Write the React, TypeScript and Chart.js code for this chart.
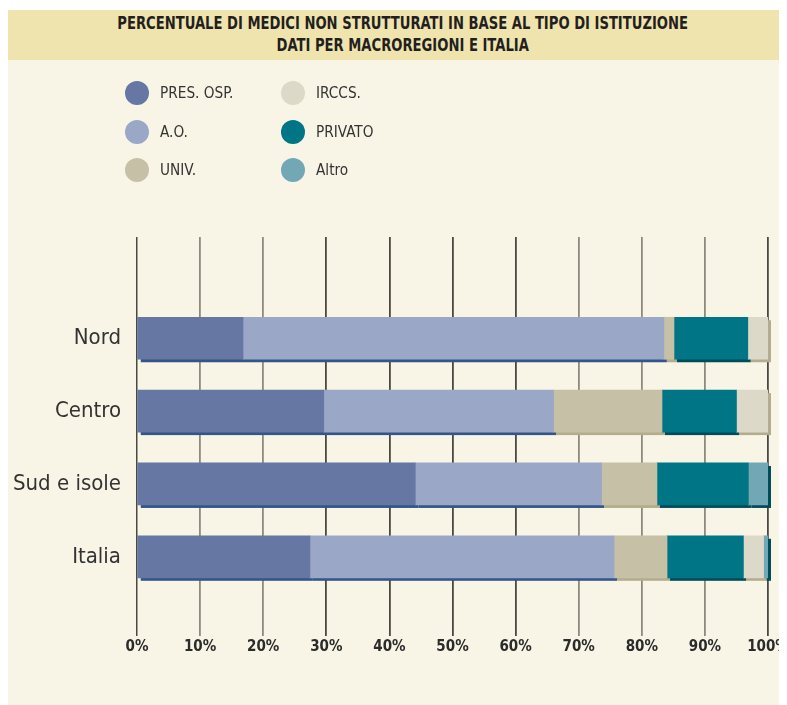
import React, { useEffect, useRef } from "react";
import { Chart, registerables } from "chart.js";

Chart.register(...registerables);

// ---- data ----
const categories = ["Nord", "Centro", "Sud e isole", "Italia"];
const seriesNames = ["PRES. OSP.", "A.O.", "UNIV.", "PRIVATO", "IRCCS.", "Altro"];
const presOsp = [16.8, 29.6, 44.1, 27.4];
const aziendeOsp = [66.7, 36.4, 29.5, 48.2];
const univ = [1.6, 17.2, 8.8, 8.4];
const privato = [11.7, 11.8, 14.5, 12.1];
const irccs = [3.2, 5.0, 0, 3.2];
const altro = [0, 0, 3.1, 0.7];
const xTickValues = [0, 10, 20, 30, 40, 50, 60, 70, 80, 90, 100];
const titleLines = [
  "PERCENTUALE DI MEDICI NON STRUTTURATI IN BASE AL TIPO DI ISTITUZIONE",
  "DATI PER MACROREGIONI E ITALIA",
];

// ---- styles ----
const seriesValues = [presOsp, aziendeOsp, univ, privato, irccs, altro];
const fillColors = ["#6577a2", "#9aa7c7", "#c6c0a7", "#007585", "#dcd9c9", "#72a8b5"];
const shadowColors = ["#34558a", "#34558a", "#b3ad8e", "#004c59", "#b3ad8e", "#004c59"];
const legendOrder = [0, 1, 2, 4, 3, 5];
const darkGridValues = [0, 30, 40, 50, 60, 100];
const NARROW = "'DejaVu Sans Condensed', 'Liberation Sans Narrow', sans-serif";
const CREAM = "#f8f5e7";
const BAND = "#efe4ae";

const shadowPlugin = {
  id: "barShadow",
  beforeDatasetsDraw(chart: any) {
    const ctx = chart.ctx;
    ctx.save();
    chart.data.datasets.forEach((ds: any, di: number) => {
      const meta = chart.getDatasetMeta(di);
      if (meta.hidden) return;
      meta.data.forEach((el: any) => {
        const p = el.getProps(["x", "y", "base", "height"], true);
        const w = p.x - p.base;
        if (Math.abs(w) < 0.01) return;
        ctx.fillStyle = ds.shadowColor;
        ctx.fillRect(p.base + 3, p.y - p.height / 2 + 3, w, p.height);
      });
    });
    ctx.restore();
  },
};

export default function App() {
  const canvasRef = useRef<HTMLCanvasElement | null>(null);

  useEffect(() => {
    document.documentElement.style.overflow = "hidden";
    const canvas = canvasRef.current;
    if (!canvas) return;
    const datasets = seriesNames.map((name, si) => ({
      label: name,
      data: categories.map((_, ci) => ({ x: seriesValues[si][ci], y: ci })),
      backgroundColor: fillColors[si],
      shadowColor: shadowColors[si],
      borderWidth: 0,
      barThickness: 42,
    }));
    const chart = new Chart(canvas, {
      type: "bar",
      data: { datasets: datasets as any },
      plugins: [shadowPlugin],
      options: {
        indexAxis: "y",
        responsive: false,
        animation: false,
        events: [],
        layout: { padding: { top: 227, right: 19, left: 0, bottom: 47 } },
        plugins: { legend: { display: false }, tooltip: { enabled: false }, title: { display: false } },
        scales: {
          x: {
            type: "linear",
            stacked: true,
            min: 0,
            max: 100,
            position: "bottom",
            afterBuildTicks: (scale: any) => {
              scale.ticks = xTickValues.map((v) => ({ value: v }));
            },
            afterFit: (scale: any) => {
              scale.paddingRight = 0;
              scale.paddingLeft = 0;
            },
            border: { display: false },
            grid: {
              display: true,
              drawOnChartArea: true,
              drawTicks: true,
              tickLength: 10,
              color: (c: any) => (darkGridValues.includes(c.tick?.value) ? "#4a4843" : "#8d8a80"),
              lineWidth: (c: any) => (c.tick?.value === 0 ? 1.5 : 1.8),
            },
            ticks: {
              padding: 2,
              color: "#2b2b2b",
              font: { family: NARROW, size: 15, weight: "bold" },
              callback: (v: any) => `${v}%`,
              maxRotation: 0,
              autoSkip: false,
            },
          },
          y: {
            type: "linear",
            stacked: true,
            reverse: true,
            offset: false,
            min: -1.39,
            max: 3.95,
            afterBuildTicks: (scale: any) => {
              scale.ticks = categories.map((_, i) => ({ value: i }));
            },
            afterFit: (scale: any) => {
              scale.width = 129;
            },
            border: { display: false },
            grid: { display: false, drawTicks: false, offset: false },
            ticks: {
              padding: 16,
              color: "#333333",
              font: { family: NARROW, size: 22 },
              callback: (v: any) => categories[v] ?? "",
              autoSkip: false,
            },
          },
        },
      } as any,
    });
    return () => chart.destroy();
  }, []);

  return (
    <div style={{ paddingTop: 2 }}>
      <div style={{ position: "relative", width: 779, height: 695, background: CREAM, overflow: "hidden" }}>
        <div
          style={{
            position: "absolute",
            left: 0,
            top: 0,
            width: 779,
            height: 50,
            background: BAND,
            fontFamily: NARROW,
            fontWeight: "bold",
            fontSize: 17,
            color: "#231f20",
            textAlign: "center",
            lineHeight: "22px",
            paddingTop: 2,
            boxSizing: "border-box",
          }}
        >
          {titleLines.map((t, i) => (
            <div key={i} style={{ paddingLeft: 12, transform: "scaleX(0.86)", whiteSpace: "nowrap" }}>{t}</div>
          ))}
        </div>
        <canvas ref={canvasRef} width={779} height={695} style={{ position: "absolute", left: 0, top: 0 }} />
        {legendOrder.map((si, k) => {
          const col = Math.floor(k / 3);
          const row = k % 3;
          const cx = 129 + col * 156;
          const cy = 83 + row * 38.5;
          return (
            <div key={si}>
              <div
                style={{
                  position: "absolute",
                  left: cx - 12,
                  top: cy - 12,
                  width: 24,
                  height: 24,
                  borderRadius: 12,
                  background: fillColors[si],
                }}
              />
              <div
                style={{
                  position: "absolute",
                  left: cx + 23,
                  top: cy - 11,
                  lineHeight: "22px",
                  fontFamily: NARROW,
                  fontSize: 16,
                  color: "#333333",
                  whiteSpace: "nowrap",
                  transform: "scaleX(0.95)",
                  transformOrigin: "left center",
                }}
              >
                {seriesNames[si]}
              </div>
            </div>
          );
        })}
      </div>
    </div>
  );
}
